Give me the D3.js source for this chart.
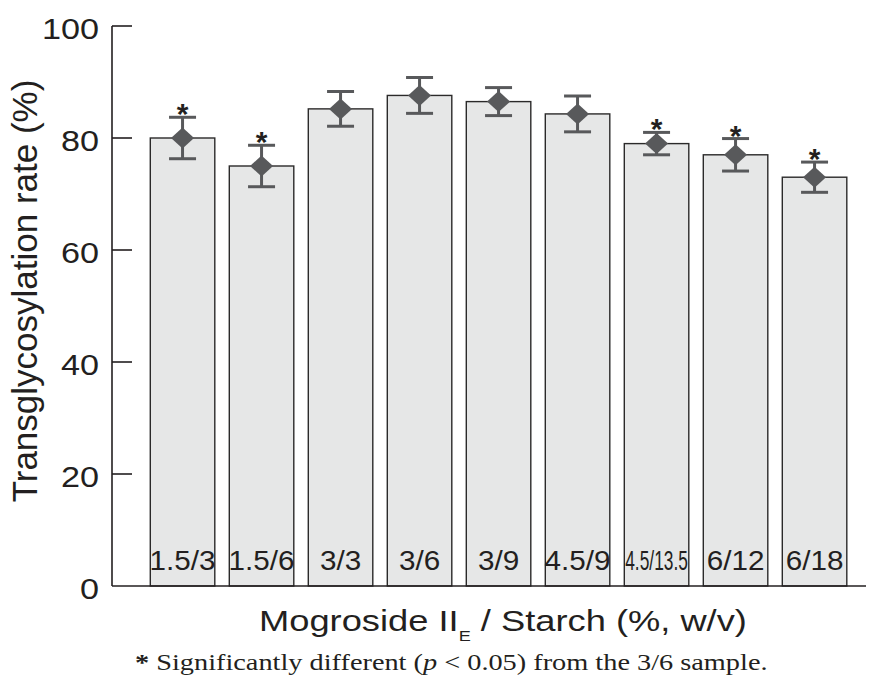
<!DOCTYPE html>
<html>
<head>
<meta charset="utf-8">
<script src="https://cdnjs.cloudflare.com/ajax/libs/d3/7.8.5/d3.min.js"></script>
<style>
  body { margin: 0; background: #fff; }
  text { font-family: "Liberation Sans", Arial, sans-serif; fill: #231f20; }
</style>
</head>
<body>
<div id="chart"></div>
<script>
var categories = ["1.5/3", "1.5/6", "3/3", "3/6", "3/9", "4.5/9", "4.5/13.5", "6/12", "6/18"]
var rates = [80.0, 75.0, 85.2, 87.6, 86.5, 84.3, 79.0, 77.0, 73.0]
var errors = [3.7, 3.7, 3.1, 3.2, 2.5, 3.2, 2.0, 2.9, 2.7]
var significant = [true, true, false, false, false, false, true, true, true]
var yTicks = [0, 20, 40, 60, 80, 100]

var width = 871
var height = 681

var data = []
for (var i = 0; i < categories.length; i++) {
  data.push({ name: categories[i], value: rates[i], err: errors[i], sig: significant[i] })
}

var svg = d3.select("#chart").append("svg")
  .attr("width", width)
  .attr("height", height)

var x = d3.scaleBand()
  .domain(categories)
  .range([143.05, 854.05])
  .paddingInner(0.1835)
  .paddingOuter(0.0917)

var y = d3.scaleLinear()
  .domain([0, 100])
  .range([586, 26])

function cx(d) { return x(d.name) + x.bandwidth() / 2 }

// bars
svg.append("g").selectAll("rect")
  .data(data)
  .enter()
  .append("rect")
  .attr("x", function (d) { return x(d.name) })
  .attr("y", function (d) { return y(d.value) })
  .attr("width", x.bandwidth())
  .attr("height", function (d) { return y(0) - y(d.value) })
  .attr("fill", "#e6e7e7")
  .attr("stroke", "#2b2a2a")
  .attr("stroke-width", 1.4)

// bar labels (the long one is squeezed like in the original)
svg.append("g").selectAll("text")
  .data(data)
  .enter()
  .append("text")
  .attr("transform", function (d) { return "translate(" + cx(d) + ",569.5)" + (d.name.length > 6 ? " scale(0.62,1)" : " scale(1.06,1)") })
  .attr("text-anchor", "middle")
  .style("font-size", "28px")
  .text(function (d) { return d.name })

// error bars
var eb = svg.append("g")
  .attr("stroke", "#58595b")
  .attr("stroke-width", 3)

eb.selectAll(".stem")
  .data(data)
  .enter()
  .append("line")
  .attr("x1", cx)
  .attr("x2", cx)
  .attr("y1", function (d) { return y(d.value + d.err) })
  .attr("y2", function (d) { return y(d.value - d.err) })

eb.selectAll(".captop")
  .data(data)
  .enter()
  .append("line")
  .attr("x1", function (d) { return cx(d) - 13.5 })
  .attr("x2", function (d) { return cx(d) + 13.5 })
  .attr("y1", function (d) { return y(d.value + d.err) })
  .attr("y2", function (d) { return y(d.value + d.err) })

eb.selectAll(".capbottom")
  .data(data)
  .enter()
  .append("line")
  .attr("x1", function (d) { return cx(d) - 13.5 })
  .attr("x2", function (d) { return cx(d) + 13.5 })
  .attr("y1", function (d) { return y(d.value - d.err) })
  .attr("y2", function (d) { return y(d.value - d.err) })

// diamonds
svg.append("g").selectAll("path")
  .data(data)
  .enter()
  .append("path")
  .attr("d", "M0,-10.5L11.5,0L0,10.5L-11.5,0Z")
  .attr("transform", function (d) { return "translate(" + cx(d) + "," + y(d.value) + ")" })
  .attr("fill", "#58595b")

// significance stars
svg.append("g").selectAll("text")
  .data(data.filter(function (d) { return d.sig }))
  .enter()
  .append("text")
  .attr("x", cx)
  .attr("y", function (d) { return y(d.value + d.err) + 7 })
  .attr("text-anchor", "middle")
  .style("font-size", "30px")
  .style("font-weight", "bold")
  .text("*")

// axes
svg.append("line")
  .attr("x1", 112).attr("x2", 866)
  .attr("y1", y(0)).attr("y2", y(0))
  .attr("stroke", "#231f20")
  .attr("stroke-width", 1.6)

svg.append("line")
  .attr("x1", 112).attr("x2", 112)
  .attr("y1", y(100)).attr("y2", y(0))
  .attr("stroke", "#231f20")
  .attr("stroke-width", 1.6)

svg.append("g").selectAll("line")
  .data(yTicks.filter(function (t) { return t > 0 }))
  .enter()
  .append("line")
  .attr("x1", 112).attr("x2", 132)
  .attr("y1", function (d) { return y(d) })
  .attr("y2", function (d) { return y(d) })
  .attr("stroke", "#231f20")
  .attr("stroke-width", 1.6)

svg.append("g").selectAll("text")
  .data(yTicks)
  .enter()
  .append("text")
  .attr("transform", function (d) { return "translate(99," + (y(d) + 13) + ") scale(1.14,1)" })
  .attr("text-anchor", "end")
  .style("font-size", "30px")
  .text(function (d) { return d })

// titles
svg.append("text")
  .attr("transform", "translate(37,291) rotate(-90)")
  .attr("text-anchor", "middle")
  .style("font-size", "35px")
  .text("Transglycosylation rate (%)")

var xt = svg.append("text")
  .attr("transform", "translate(259,631) scale(1.21,1)")
  .style("font-size", "30px")
xt.append("tspan").text("Mogroside II")
xt.append("tspan").attr("dy", 10).style("font-size", "15px").text("E")
xt.append("tspan").attr("dy", -10).text(" / Starch (%, w/v)")

var fn = svg.append("text")
  .attr("transform", "translate(135,670) scale(1.18,1)")
  .style("font-family", "'Liberation Serif', 'Times New Roman', serif")
  .style("font-size", "24px")
fn.append("tspan").style("font-weight", "bold").text("*")
fn.append("tspan").text(" Significantly different (")
fn.append("tspan").style("font-style", "italic").text("p")
fn.append("tspan").text(" < 0.05) from the 3/6 sample.")
</script>
</body>
</html>
